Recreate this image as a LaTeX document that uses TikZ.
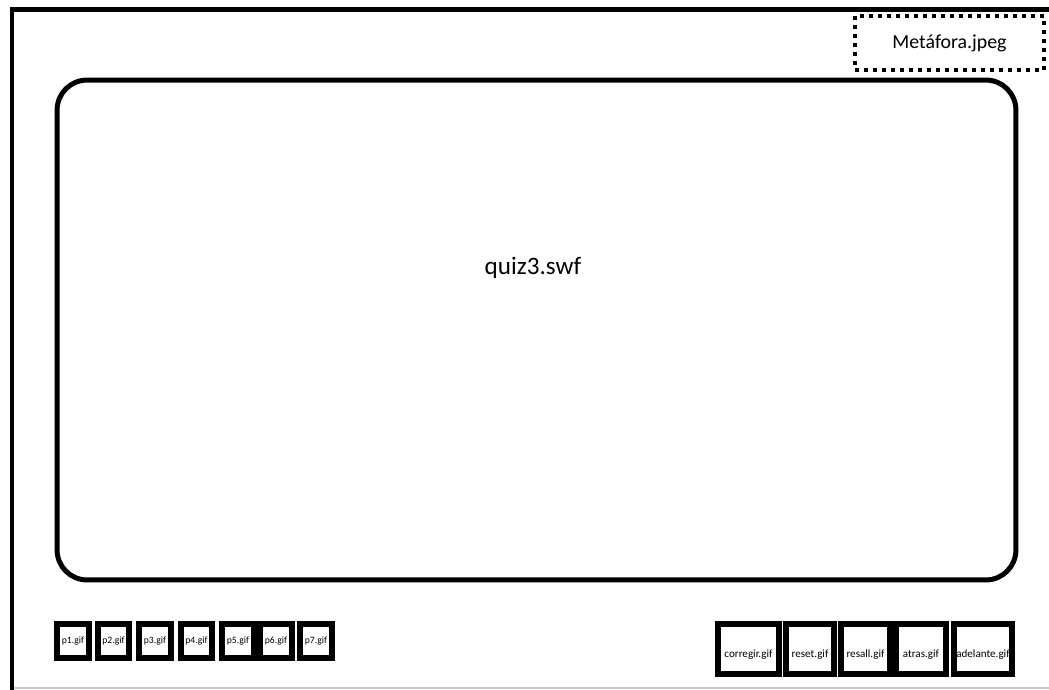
\documentclass[tikz,border=0pt]{standalone}
\usepackage{fontspec}
\setmainfont{Carlito}
\usetikzlibrary{positioning}
\definecolor{edgegray}{RGB}{200, 200, 200}

\tikzset{
  gifbox/.style={draw, line width=0.12cm, minimum width=0.64cm, minimum height=0.68cm, inner sep=0pt, font=\fontsize{5.5}{6}\selectfont},
  btnbox/.style={draw, line width=0.12cm, minimum height=1.0cm, inner sep=0pt},
  btnlabel/.style={font=\fontsize{6.3}{7}\selectfont, yshift=-0.12cm}
}

\begin{document}
\begin{tikzpicture}[x=0.02cm, y=-0.02cm]
  \useasboundingbox (0,0) rectangle (1049,690);

  % Frame
  \coordinate (frametop) at (12,9);
  \coordinate (frameright) at (1060,9);
  \coordinate (framebottom) at (12,700);
  \draw[line width=0.1cm] (framebottom) -- (frametop) -- (frameright);
  \coordinate (baseleft) at (14,688);
  \coordinate (baseright) at (1049,688);
  \draw[edgegray, line width=0.6pt] (baseleft) -- (baseright);

  % Metafora
  \node[draw, line width=0.08cm, dash pattern=on 0.08cm off 0.1cm, minimum width=3.78cm, minimum height=1.08cm, font=\fontsize{11.3}{13}\selectfont] (metafora) at (949.5,43) {Metáfora.jpeg};

  % Main area
  \node[draw, line width=0.1cm, rounded corners=0.6cm, minimum width=19.18cm, minimum height=10cm, font=\fontsize{14.3}{16}\selectfont] (quiz) at (536.5,330) {};
  \node[font=\fontsize{14.3}{16}\selectfont] (quizlabel) at (533,268) {quiz3.swf};

  % Preguntas
  \node[gifbox] (p1) at (73,641) {p1.gif};
  \node[gifbox] (p2) at (113.5,641) {p2.gif};
  \node[gifbox] (p3) at (155,641) {p3.gif};
  \node[gifbox] (p4) at (196.5,641) {p4.gif};
  \node[gifbox] (p5) at (238,641) {p5.gif};
  \node[gifbox] (p6) at (276,641) {p6.gif};
  \node[gifbox] (p7) at (316,641) {p7.gif};

  % Botones
  \node[btnbox, minimum width=1.22cm, label={[btnlabel]center:corregir.gif}] (corregir) at (748.5,649) {};
  \node[btnbox, minimum width=0.96cm, label={[btnlabel]center:reset.gif}] (reset) at (810,649) {};
  \node[btnbox, minimum width=0.98cm, label={[btnlabel]center:resall.gif}] (resall) at (865.5,649) {};
  \node[btnbox, minimum width=1.0cm, label={[btnlabel]center:atras.gif}] (atras) at (921,649) {};
  \node[btnbox, minimum width=1.16cm, label={[btnlabel]center:adelante.gif}] (adelante) at (983,649) {};
\end{tikzpicture}
\end{document}
